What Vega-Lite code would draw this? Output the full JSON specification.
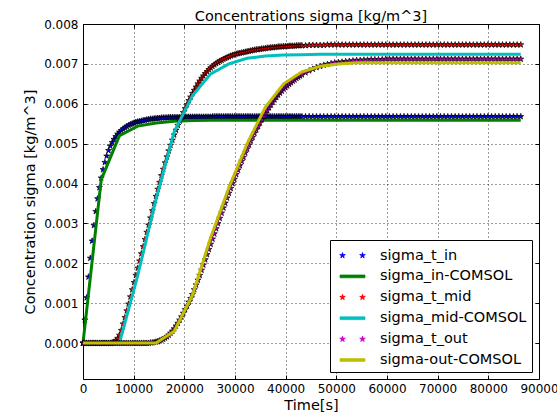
{
  "$schema": "https://vega.github.io/schema/vega-lite/v6.json",
  "width": 456,
  "height": 355,
  "autosize": {"type": "none"},
  "padding": {"left": 83, "top": 24, "right": 18, "bottom": 39},
  "background": "white",
  "title": {"text": "Concentrations sigma [kg/m^3]", "frame": "group", "fontSize": 14.5, "font": "DejaVu Sans", "fontWeight": "normal", "color": "black", "offset": -6},
  "datasets": {
    "stars": [
      {"t":0,"in":0,"mid":0,"out":0},
      {"t":360,"in":0.00058,"mid":0,"out":0},
      {"t":720,"in":0.00114,"mid":0,"out":0},
      {"t":1080,"in":0.00166,"mid":0,"out":0},
      {"t":1440,"in":0.00213,"mid":0,"out":0},
      {"t":1800,"in":0.00256,"mid":0,"out":0},
      {"t":2160,"in":0.00295,"mid":0,"out":0},
      {"t":2520,"in":0.00330,"mid":0,"out":0},
      {"t":2880,"in":0.00362,"mid":0,"out":0},
      {"t":3240,"in":0.00390,"mid":0,"out":0},
      {"t":3600,"in":0.00414,"mid":0,"out":0},
      {"t":3960,"in":0.00435,"mid":0,"out":0},
      {"t":4320,"in":0.00453,"mid":0,"out":0},
      {"t":4680,"in":0.00469,"mid":0,"out":0},
      {"t":5040,"in":0.00483,"mid":0,"out":0},
      {"t":5400,"in":0.00494,"mid":0,"out":0},
      {"t":5760,"in":0.00503,"mid":0.00001,"out":0},
      {"t":6120,"in":0.00511,"mid":0.00003,"out":0},
      {"t":6480,"in":0.00518,"mid":0.00006,"out":0},
      {"t":6840,"in":0.00524,"mid":0.00012,"out":0},
      {"t":7200,"in":0.00529,"mid":0.00020,"out":0},
      {"t":7560,"in":0.00533,"mid":0.00032,"out":0},
      {"t":7920,"in":0.00537,"mid":0.00048,"out":0},
      {"t":8280,"in":0.00540,"mid":0.00064,"out":0},
      {"t":8640,"in":0.00543,"mid":0.00081,"out":0},
      {"t":9000,"in":0.00546,"mid":0.00098,"out":0},
      {"t":9360,"in":0.00548,"mid":0.00116,"out":0},
      {"t":9720,"in":0.00550,"mid":0.00134,"out":0},
      {"t":10080,"in":0.00552,"mid":0.00152,"out":0},
      {"t":10440,"in":0.00554,"mid":0.00170,"out":0},
      {"t":10800,"in":0.00555,"mid":0.00188,"out":0},
      {"t":11160,"in":0.00556,"mid":0.00206,"out":0},
      {"t":11520,"in":0.00557,"mid":0.00224,"out":0},
      {"t":11880,"in":0.00558,"mid":0.00242,"out":0},
      {"t":12240,"in":0.00559,"mid":0.00260,"out":0},
      {"t":12600,"in":0.00560,"mid":0.00278,"out":0},
      {"t":12960,"in":0.00561,"mid":0.00296,"out":0},
      {"t":13320,"in":0.00562,"mid":0.00314,"out":0.00001},
      {"t":13680,"in":0.00562,"mid":0.00332,"out":0.00001},
      {"t":14040,"in":0.00563,"mid":0.00350,"out":0.00002},
      {"t":14400,"in":0.00563,"mid":0.00368,"out":0.00003},
      {"t":14760,"in":0.00564,"mid":0.00386,"out":0.00004},
      {"t":15120,"in":0.00564,"mid":0.00403,"out":0.00006},
      {"t":15480,"in":0.00565,"mid":0.00420,"out":0.00008},
      {"t":15840,"in":0.00565,"mid":0.00436,"out":0.00010},
      {"t":16200,"in":0.00565,"mid":0.00452,"out":0.00013},
      {"t":16560,"in":0.00565,"mid":0.00467,"out":0.00016},
      {"t":16920,"in":0.00566,"mid":0.00482,"out":0.00020},
      {"t":17280,"in":0.00566,"mid":0.00496,"out":0.00025},
      {"t":17640,"in":0.00566,"mid":0.00509,"out":0.00030},
      {"t":18000,"in":0.00566,"mid":0.00522,"out":0.00036},
      {"t":18360,"in":0.00566,"mid":0.00534,"out":0.00043},
      {"t":18720,"in":0.00566,"mid":0.00546,"out":0.00050},
      {"t":19080,"in":0.00566,"mid":0.00557,"out":0.00058},
      {"t":19440,"in":0.00566,"mid":0.00567,"out":0.00066},
      {"t":19800,"in":0.00566,"mid":0.00578,"out":0.00075},
      {"t":20160,"in":0.00567,"mid":0.00588,"out":0.00084},
      {"t":20520,"in":0.00567,"mid":0.00598,"out":0.00093},
      {"t":20880,"in":0.00567,"mid":0.00608,"out":0.00103},
      {"t":21240,"in":0.00567,"mid":0.00617,"out":0.00112},
      {"t":21600,"in":0.00567,"mid":0.00626,"out":0.00122},
      {"t":21960,"in":0.00567,"mid":0.00634,"out":0.00134},
      {"t":22320,"in":0.00567,"mid":0.00642,"out":0.00146},
      {"t":22680,"in":0.00567,"mid":0.00650,"out":0.00158},
      {"t":23040,"in":0.00567,"mid":0.00657,"out":0.00170},
      {"t":23400,"in":0.00567,"mid":0.00664,"out":0.00183},
      {"t":23760,"in":0.00567,"mid":0.00670,"out":0.00196},
      {"t":24120,"in":0.00567,"mid":0.00676,"out":0.00209},
      {"t":24480,"in":0.00567,"mid":0.00681,"out":0.00222},
      {"t":24840,"in":0.00567,"mid":0.00686,"out":0.00235},
      {"t":25200,"in":0.00567,"mid":0.00690,"out":0.00248},
      {"t":25560,"in":0.00568,"mid":0.00694,"out":0.00261},
      {"t":25920,"in":0.00568,"mid":0.00698,"out":0.00274},
      {"t":26280,"in":0.00568,"mid":0.00701,"out":0.00287},
      {"t":26640,"in":0.00568,"mid":0.00704,"out":0.00300},
      {"t":27000,"in":0.00568,"mid":0.00707,"out":0.00313},
      {"t":27360,"in":0.00568,"mid":0.00709,"out":0.00326},
      {"t":27720,"in":0.00568,"mid":0.00712,"out":0.00339},
      {"t":28080,"in":0.00568,"mid":0.00714,"out":0.00351},
      {"t":28440,"in":0.00568,"mid":0.00716,"out":0.00364},
      {"t":28800,"in":0.00568,"mid":0.00718,"out":0.00376},
      {"t":29160,"in":0.00568,"mid":0.00720,"out":0.00388},
      {"t":29520,"in":0.00568,"mid":0.00722,"out":0.00400},
      {"t":29880,"in":0.00568,"mid":0.00723,"out":0.00411},
      {"t":30240,"in":0.00568,"mid":0.00725,"out":0.00423},
      {"t":30600,"in":0.00568,"mid":0.00726,"out":0.00434},
      {"t":30960,"in":0.00568,"mid":0.00727,"out":0.00445},
      {"t":31320,"in":0.00568,"mid":0.00728,"out":0.00456},
      {"t":31680,"in":0.00568,"mid":0.00729,"out":0.00466},
      {"t":32040,"in":0.00568,"mid":0.00730,"out":0.00477},
      {"t":32400,"in":0.00568,"mid":0.00731,"out":0.00487},
      {"t":32760,"in":0.00568,"mid":0.00732,"out":0.00497},
      {"t":33120,"in":0.00568,"mid":0.00733,"out":0.00507},
      {"t":33480,"in":0.00568,"mid":0.00734,"out":0.00516},
      {"t":33840,"in":0.00568,"mid":0.00735,"out":0.00526},
      {"t":34200,"in":0.00568,"mid":0.00736,"out":0.00535},
      {"t":34560,"in":0.00568,"mid":0.00736,"out":0.00543},
      {"t":34920,"in":0.00568,"mid":0.00737,"out":0.00552},
      {"t":35280,"in":0.00568,"mid":0.00738,"out":0.00560},
      {"t":35640,"in":0.00568,"mid":0.00738,"out":0.00568},
      {"t":36000,"in":0.00568,"mid":0.00739,"out":0.00576},
      {"t":36360,"in":0.00568,"mid":0.00740,"out":0.00583},
      {"t":36720,"in":0.00568,"mid":0.00740,"out":0.00590},
      {"t":37080,"in":0.00568,"mid":0.00741,"out":0.00597},
      {"t":37440,"in":0.00568,"mid":0.00741,"out":0.00604},
      {"t":37800,"in":0.00568,"mid":0.00742,"out":0.00610},
      {"t":38160,"in":0.00568,"mid":0.00742,"out":0.00616},
      {"t":38520,"in":0.00568,"mid":0.00743,"out":0.00622},
      {"t":38880,"in":0.00568,"mid":0.00743,"out":0.00627},
      {"t":39240,"in":0.00568,"mid":0.00743,"out":0.00632},
      {"t":39600,"in":0.00568,"mid":0.00744,"out":0.00637},
      {"t":39960,"in":0.00568,"mid":0.00744,"out":0.00641},
      {"t":40320,"in":0.00568,"mid":0.00744,"out":0.00645},
      {"t":40680,"in":0.00568,"mid":0.00745,"out":0.00649},
      {"t":41040,"in":0.00568,"mid":0.00745,"out":0.00653},
      {"t":41400,"in":0.00568,"mid":0.00745,"out":0.00657},
      {"t":41760,"in":0.00568,"mid":0.00745,"out":0.00660},
      {"t":42120,"in":0.00568,"mid":0.00746,"out":0.00664},
      {"t":42480,"in":0.00568,"mid":0.00746,"out":0.00667},
      {"t":42840,"in":0.00568,"mid":0.00746,"out":0.00670},
      {"t":43200,"in":0.00568,"mid":0.00746,"out":0.00673},
      {"t":43920,"in":0.00568,"mid":0.00746,"out":0.00678},
      {"t":44640,"in":0.00568,"mid":0.00747,"out":0.00683},
      {"t":45360,"in":0.00568,"mid":0.00747,"out":0.00687},
      {"t":46080,"in":0.00568,"mid":0.00747,"out":0.00691},
      {"t":46800,"in":0.00568,"mid":0.00747,"out":0.00694},
      {"t":47520,"in":0.00568,"mid":0.00747,"out":0.00697},
      {"t":48240,"in":0.00568,"mid":0.00748,"out":0.00699},
      {"t":48960,"in":0.00568,"mid":0.00748,"out":0.00701},
      {"t":49680,"in":0.00568,"mid":0.00748,"out":0.00703},
      {"t":50400,"in":0.00568,"mid":0.00748,"out":0.00704},
      {"t":51120,"in":0.00568,"mid":0.00748,"out":0.00705},
      {"t":51840,"in":0.00568,"mid":0.00748,"out":0.00706},
      {"t":52560,"in":0.00568,"mid":0.00748,"out":0.00707},
      {"t":53280,"in":0.00568,"mid":0.00748,"out":0.00708},
      {"t":54000,"in":0.00568,"mid":0.00748,"out":0.00709},
      {"t":54720,"in":0.00568,"mid":0.00748,"out":0.00709},
      {"t":55440,"in":0.00568,"mid":0.00748,"out":0.00710},
      {"t":56160,"in":0.00568,"mid":0.00748,"out":0.00710},
      {"t":56880,"in":0.00568,"mid":0.00748,"out":0.00711},
      {"t":57600,"in":0.00568,"mid":0.00748,"out":0.00711},
      {"t":58320,"in":0.00568,"mid":0.00748,"out":0.00711},
      {"t":59040,"in":0.00568,"mid":0.00748,"out":0.00711},
      {"t":59760,"in":0.00568,"mid":0.00748,"out":0.00712},
      {"t":60480,"in":0.00568,"mid":0.00748,"out":0.00712},
      {"t":61200,"in":0.00568,"mid":0.00748,"out":0.00712},
      {"t":61920,"in":0.00568,"mid":0.00748,"out":0.00712},
      {"t":62640,"in":0.00568,"mid":0.00748,"out":0.00712},
      {"t":63360,"in":0.00568,"mid":0.00748,"out":0.00712},
      {"t":64080,"in":0.00568,"mid":0.00748,"out":0.00712},
      {"t":64800,"in":0.00568,"mid":0.00748,"out":0.00712},
      {"t":65520,"in":0.00568,"mid":0.00748,"out":0.00712},
      {"t":66240,"in":0.00568,"mid":0.00748,"out":0.00712},
      {"t":66960,"in":0.00568,"mid":0.00748,"out":0.00712},
      {"t":67680,"in":0.00568,"mid":0.00748,"out":0.00712},
      {"t":68400,"in":0.00568,"mid":0.00748,"out":0.00712},
      {"t":69120,"in":0.00568,"mid":0.00748,"out":0.00712},
      {"t":69840,"in":0.00568,"mid":0.00748,"out":0.00712},
      {"t":70560,"in":0.00568,"mid":0.00748,"out":0.00712},
      {"t":71280,"in":0.00568,"mid":0.00748,"out":0.00712},
      {"t":72000,"in":0.00568,"mid":0.00748,"out":0.00712},
      {"t":72720,"in":0.00568,"mid":0.00748,"out":0.00712},
      {"t":73440,"in":0.00568,"mid":0.00748,"out":0.00712},
      {"t":74160,"in":0.00568,"mid":0.00748,"out":0.00712},
      {"t":74880,"in":0.00568,"mid":0.00748,"out":0.00712},
      {"t":75600,"in":0.00568,"mid":0.00748,"out":0.00712},
      {"t":76320,"in":0.00568,"mid":0.00748,"out":0.00712},
      {"t":77040,"in":0.00568,"mid":0.00748,"out":0.00712},
      {"t":77760,"in":0.00568,"mid":0.00748,"out":0.00712},
      {"t":78480,"in":0.00568,"mid":0.00748,"out":0.00712},
      {"t":79200,"in":0.00568,"mid":0.00748,"out":0.00712},
      {"t":79920,"in":0.00568,"mid":0.00748,"out":0.00712},
      {"t":80640,"in":0.00568,"mid":0.00748,"out":0.00712},
      {"t":81360,"in":0.00568,"mid":0.00748,"out":0.00712},
      {"t":82080,"in":0.00568,"mid":0.00748,"out":0.00712},
      {"t":82800,"in":0.00568,"mid":0.00748,"out":0.00712},
      {"t":83520,"in":0.00568,"mid":0.00748,"out":0.00712},
      {"t":84240,"in":0.00568,"mid":0.00748,"out":0.00712},
      {"t":84960,"in":0.00568,"mid":0.00748,"out":0.00712},
      {"t":85680,"in":0.00568,"mid":0.00748,"out":0.00712},
      {"t":86400,"in":0.00568,"mid":0.00748,"out":0.00712}
    ],
    "comsol": [
      {"t":0,"in":0,"mid":0,"out":0},
      {"t":3600,"in":0.0041,"mid":0,"out":0},
      {"t":7200,"in":0.0052,"mid":0,"out":0},
      {"t":10800,"in":0.00544,"mid":0.0017,"out":0},
      {"t":14400,"in":0.00552,"mid":0.0036,"out":0},
      {"t":18000,"in":0.00556,"mid":0.0053,"out":0.0003},
      {"t":21600,"in":0.00558,"mid":0.0062,"out":0.0012},
      {"t":25200,"in":0.00559,"mid":0.00675,"out":0.00265},
      {"t":28800,"in":0.00559,"mid":0.0070,"out":0.0039},
      {"t":32400,"in":0.00559,"mid":0.00714,"out":0.0050},
      {"t":36000,"in":0.00559,"mid":0.0072,"out":0.00592},
      {"t":39600,"in":0.00559,"mid":0.00722,"out":0.0065},
      {"t":43200,"in":0.00559,"mid":0.00723,"out":0.0068},
      {"t":46800,"in":0.00559,"mid":0.00724,"out":0.00694},
      {"t":50400,"in":0.00559,"mid":0.00724,"out":0.0070},
      {"t":54000,"in":0.00559,"mid":0.00724,"out":0.00703},
      {"t":57600,"in":0.00559,"mid":0.00724,"out":0.00703},
      {"t":61200,"in":0.00559,"mid":0.00724,"out":0.00703},
      {"t":64800,"in":0.00559,"mid":0.00724,"out":0.00703},
      {"t":68400,"in":0.00559,"mid":0.00724,"out":0.00703},
      {"t":72000,"in":0.00559,"mid":0.00724,"out":0.00703},
      {"t":75600,"in":0.00559,"mid":0.00724,"out":0.00703},
      {"t":79200,"in":0.00559,"mid":0.00724,"out":0.00703},
      {"t":82800,"in":0.00559,"mid":0.00724,"out":0.00703},
      {"t":86400,"in":0.00559,"mid":0.00724,"out":0.00703}
    ]
  },
  "config": {
    "view": {"stroke": "black", "strokeWidth": 1},
    "font": "DejaVu Sans",
    "axis": {
      "labelFont": "DejaVu Sans",
      "labelFontSize": 12,
      "labelColor": "black",
      "labelOverlap": false,
      "labelFlush": false,
      "titleFont": "DejaVu Sans",
      "titleFontSize": 14.5,
      "titleFontWeight": "normal",
      "titleColor": "black",
      "tickColor": "black",
      "tickWidth": 1,
      "tickSize": -4,
      "domain": false,
      "gridColor": "black",
      "gridDash": [1, 3],
      "gridWidth": 0.8,
      "gridOpacity": 1
    },
    "legend": {
      "labelFont": "DejaVu Sans",
      "labelFontSize": 14.5,
      "labelColor": "black",
      "labelLimit": 300,
      "strokeColor": "black",
      "fillColor": "white",
      "padding": 5,
      "cornerRadius": 0,
      "symbolSize": 400,
      "symbolStrokeWidth": 0.7,
      "rowPadding": 3.9,
      "symbolOffset": 7,
      "labelOffset": 17
    }
  },
  "resolve": {"axis": {"x": "independent", "y": "independent"}},
  "layer": [
    {
      "data": {"name": "stars"},
      "mark": {"type": "point", "filled": true, "size": 40, "stroke": "black", "strokeWidth": 0.7, "opacity": 1,
        "shape": "M0,-1L0.225,-0.309L0.951,-0.309L0.363,0.118L0.588,0.809L0,0.382L-0.588,0.809L-0.363,0.118L-0.951,-0.309L-0.225,-0.309Z"},
      "encoding": {
        "x": {"field": "t", "type": "quantitative", "scale": {"domain": [0, 90000], "nice": false},
          "axis": {"orient": "bottom", "values": [0,10000,20000,30000,40000,50000,60000,70000,80000,90000], "format": "d", "title": "Time[s]", "grid": true, "labelPadding": 8, "titlePadding": 4}},
        "y": {"field": "in", "type": "quantitative", "scale": {"domain": [-0.0009, 0.008], "nice": false, "zero": false},
          "axis": {"orient": "left", "values": [0,0.001,0.002,0.003,0.004,0.005,0.006,0.007,0.008], "format": ".3f", "title": "Concentration sigma [kg/m^3]", "grid": true, "labelPadding": 9, "titlePadding": 6}},
        "color": {"datum": "sigma_t_in", "type": "nominal",
          "scale": {"domain": ["sigma_t_in","sigma_in-COMSOL","sigma_t_mid","sigma_mid-COMSOL","sigma_t_out","sigma-out-COMSOL"],
                    "range": ["#0000ff","#008000","#ff0000","#00bfbf","#bf00bf","#bfbf00"]},
          "legend": {"title": null, "orient": "bottom-right", "offset": 7,
            "symbolType": {"expr": "indexof(datum.value,'COMSOL') >= 0 ? 'M-1.25,-0.14L1.25,-0.14L1.25,0.14L-1.25,0.14Z' : 'M-1,-0.3L-0.933,-0.093L-0.715,-0.093L-0.891,0.035L-0.824,0.243L-1,0.115L-1.176,0.243L-1.109,0.035L-1.285,-0.093L-1.067,-0.093ZM1,-0.3L1.067,-0.093L1.285,-0.093L1.109,0.035L1.176,0.243L1,0.115L0.824,0.243L0.891,0.035L0.715,-0.093L0.933,-0.093Z'"},
            "symbolStrokeColor": {"expr": "indexof(datum.value,'COMSOL') >= 0 ? scale('color', datum.value) : 'black'"}
          }
        }
      }
    },
    {
      "data": {"name": "comsol"},
      "mark": {"type": "line", "strokeWidth": 3, "opacity": 1},
      "encoding": {
        "x": {"field": "t", "type": "quantitative", "scale": {"domain": [0, 90000], "nice": false},
          "axis": {"orient": "top", "values": [0,10000,20000,30000,40000,50000,60000,70000,80000,90000], "labels": false, "grid": false, "title": null}},
        "y": {"field": "in", "type": "quantitative", "scale": {"domain": [-0.0009, 0.008], "nice": false, "zero": false},
          "axis": {"orient": "right", "values": [0,0.001,0.002,0.003,0.004,0.005,0.006,0.007,0.008], "labels": false, "grid": false, "title": null}},
        "color": {"datum": "sigma_in-COMSOL", "type": "nominal"}
      }
    },
    {
      "data": {"name": "stars"},
      "mark": {"type": "point", "filled": true, "size": 40, "stroke": "black", "strokeWidth": 0.7, "opacity": 1,
        "shape": "M0,-1L0.225,-0.309L0.951,-0.309L0.363,0.118L0.588,0.809L0,0.382L-0.588,0.809L-0.363,0.118L-0.951,-0.309L-0.225,-0.309Z"},
      "encoding": {
        "x": {"field": "t", "type": "quantitative", "axis": null},
        "y": {"field": "mid", "type": "quantitative", "axis": null},
        "color": {"datum": "sigma_t_mid", "type": "nominal"}
      }
    },
    {
      "data": {"name": "comsol"},
      "mark": {"type": "line", "strokeWidth": 3, "opacity": 1},
      "encoding": {
        "x": {"field": "t", "type": "quantitative", "axis": null},
        "y": {"field": "mid", "type": "quantitative", "axis": null},
        "color": {"datum": "sigma_mid-COMSOL", "type": "nominal"}
      }
    },
    {
      "data": {"name": "stars"},
      "mark": {"type": "point", "filled": true, "size": 40, "stroke": "black", "strokeWidth": 0.7, "opacity": 1,
        "shape": "M0,-1L0.225,-0.309L0.951,-0.309L0.363,0.118L0.588,0.809L0,0.382L-0.588,0.809L-0.363,0.118L-0.951,-0.309L-0.225,-0.309Z"},
      "encoding": {
        "x": {"field": "t", "type": "quantitative", "axis": null},
        "y": {"field": "out", "type": "quantitative", "axis": null},
        "color": {"datum": "sigma_t_out", "type": "nominal"}
      }
    },
    {
      "data": {"name": "comsol"},
      "mark": {"type": "line", "strokeWidth": 3, "opacity": 1},
      "encoding": {
        "x": {"field": "t", "type": "quantitative", "axis": null},
        "y": {"field": "out", "type": "quantitative", "axis": null},
        "color": {"datum": "sigma-out-COMSOL", "type": "nominal"}
      }
    }
  ]
}
